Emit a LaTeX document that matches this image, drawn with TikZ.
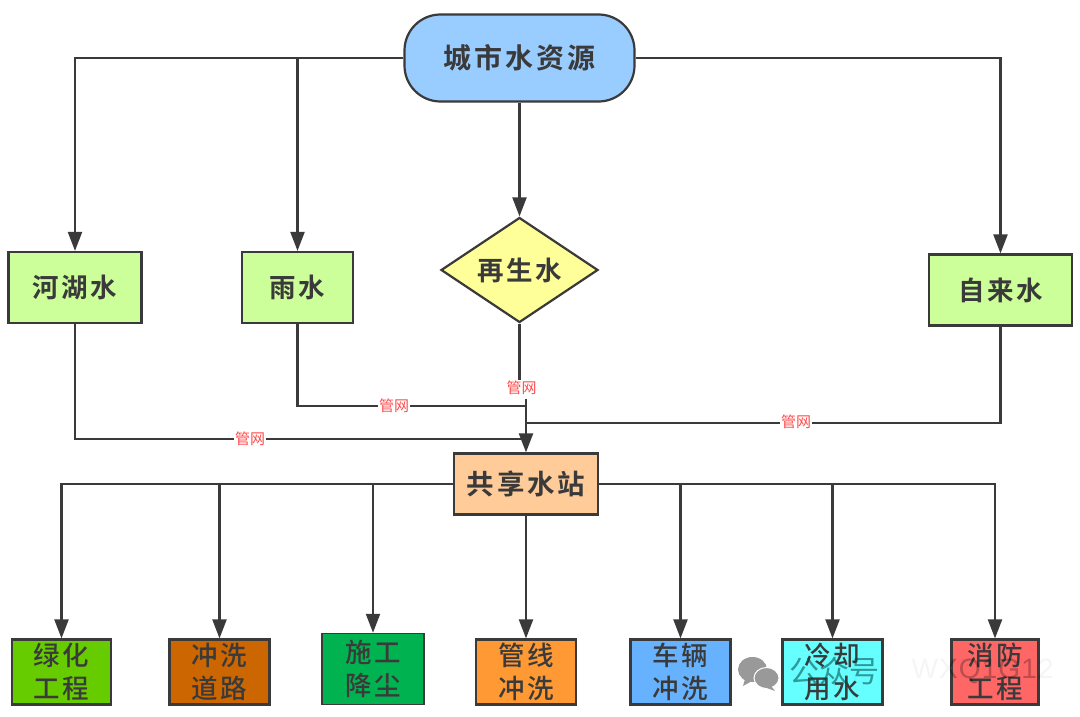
\documentclass[tikz,border=0pt]{standalone}
\usepackage{fontspec}
\setmainfont{Noto Sans CJK SC}
\newfontfamily\lab[LetterSpace=10]{Noto Sans CJK SC Medium}
\newfontfamily\labb[LetterSpace=10]{Noto Sans CJK SC Bold}
\newfontfamily\wm[LetterSpace=4]{Liberation Sans}
\usetikzlibrary{shapes.geometric,arrows.meta}
\definecolor{ink}{HTML}{3A3A3A}
\tikzset{
 x=1pt,y=-1pt,
 box/.style={draw=ink,line width=2.2pt,rectangle,inner sep=0pt,text=ink,align=center,font=\labb\fontsize{26.5}{33}\selectfont},
 leaf/.style={box,font=\lab\fontsize{26.5}{33}\selectfont},
 link/.style={draw=ink,line width=2.2pt},
 arr/.style={link,-{Triangle[length=19pt,width=14pt]}},
 tag/.style={fill=white,inner sep=1pt,text=red!70,font=\fontsize{15}{15}\selectfont},
}
\begin{document}
\begin{tikzpicture}
\useasboundingbox (0,0) rectangle (1080,717);
\fill[white] (0,0) rectangle (1080,717);
% nodes
\node[box,rounded corners=36pt,fill={rgb,255:red,153;green,204;blue,255},minimum width=230pt,minimum height=87pt,font=\labb\fontsize{28}{33}\selectfont] (src) at (519.5,58) {城市水资源};
\node[box,fill={rgb,255:red,204;green,255;blue,153},minimum width=133pt,minimum height=71pt] (river) at (75,287.5) {河湖水};
\node[box,fill={rgb,255:red,204;green,255;blue,153},minimum width=111pt,minimum height=71pt] (rain) at (297.5,287.5) {雨水};
\node[box,diamond,aspect=1.5,fill={rgb,255:red,255;green,255;blue,153},minimum width=157pt,minimum height=105pt,inner sep=0pt] (reuse) at (519.5,270) {再生水};
\node[box,fill={rgb,255:red,204;green,255;blue,153},minimum width=143pt,minimum height=71pt] (tap) at (1000.5,290) {自来水};
\node[box,fill={rgb,255:red,255;green,204;blue,153},minimum width=144pt,minimum height=61pt,font=\labb\fontsize{27.5}{33}\selectfont] (stn) at (526,484) {共享水站};
\node[leaf,fill={rgb,255:red,102;green,204;blue,0},minimum width=99pt,minimum height=65pt] (a) at (61.5,672) {绿化\\工程};
\node[leaf,fill={rgb,255:red,204;green,102;blue,0},minimum width=100pt,minimum height=65pt] (b) at (219.5,672) {冲洗\\道路};
\node[leaf,fill={rgb,255:red,0;green,178;blue,80},minimum width=102pt,minimum height=71pt,line width=1.5pt] (c) at (373,669) {施工\\降尘};
\node[leaf,fill={rgb,255:red,255;green,153;blue,51},minimum width=100pt,minimum height=65pt] (d) at (526,672) {管线\\冲洗};
\node[leaf,fill={rgb,255:red,102;green,178;blue,255},minimum width=100pt,minimum height=65pt] (e) at (680.5,672) {车辆\\冲洗};
\node[leaf,fill={rgb,255:red,102;green,255;blue,255},minimum width=100pt,minimum height=65pt] (f) at (832.5,672) {冷却\\用水};
\node[leaf,fill={rgb,255:red,255;green,102;blue,102},minimum width=87pt,minimum height=65pt] (g) at (995,672) {消防\\工程};
% named free points
\coordinate (j0) at (526,399);
\coordinate (j1) at (526,406);
\coordinate (j2) at (526,423);
\coordinate (j3) at (526,439);
\coordinate (r0) at (519.5,385);
% top connectors
\draw[arr] (src.west) -| (river.north);
\draw[arr] (src.west) -| (rain.north);
\draw[arr] (src.south) -- (reuse.north);
\draw[arr] (src.east) -| (tap.north);
% pipe network
\draw[link] (reuse.south) -- (r0);
\node[tag] (t0) at (521.5,387.5) {管网};
\draw[link] (j0) -- (j2);
\draw[link] (rain.south) |- (j1);
\node[tag] (t1) at (394,405.5) {管网};
\draw[link] (tap.south) |- (j2);
\node[tag] (t2) at (796,422) {管网};
\draw[link] (river.south) |- (j3);
\node[tag] (t3) at (250,438.5) {管网};
\draw[arr] (j2) -- (stn.north);
% outputs
\draw[arr] (stn.west) -| (a.north);
\draw[arr] (stn.west) -| (b.north);
\draw[arr] (stn.west) -| (c.north);
\draw[arr] (stn.south) -- (d.north);
\draw[arr] (stn.east) -| (e.north);
\draw[arr] (stn.east) -| (f.north);
\draw[arr] (stn.east) -| (g.north);
% watermark
\fill[gray!80] (752.5,669.5) ellipse (14.5 and 12.5);
\fill[gray!80] (745,679) -- (743,686) -- (752,681) -- cycle;
\draw[white,line width=1pt,fill=gray!80] (766.5,678) ellipse (12.5 and 10.5);
\fill[gray!80] (771,686) -- (775,691) -- (764,687) -- cycle;
\node[text=black!45!teal,opacity=.55,font=\fontsize{30}{30}\selectfont,anchor=west] (w1) at (786,671) {公众号};
\node[text=black,opacity=.04,font=\wm\fontsize{28}{28}\selectfont,anchor=west] (w2) at (908,671) {WXQ1G12};
\begin{scope}
\clip (g.south west) rectangle (g.north east);
\node[text=black,opacity=.22,font=\wm\fontsize{28}{28}\selectfont,anchor=west] (w3) at (908,671) {WXQ1G12};
\end{scope}
\end{tikzpicture}
\end{document}
